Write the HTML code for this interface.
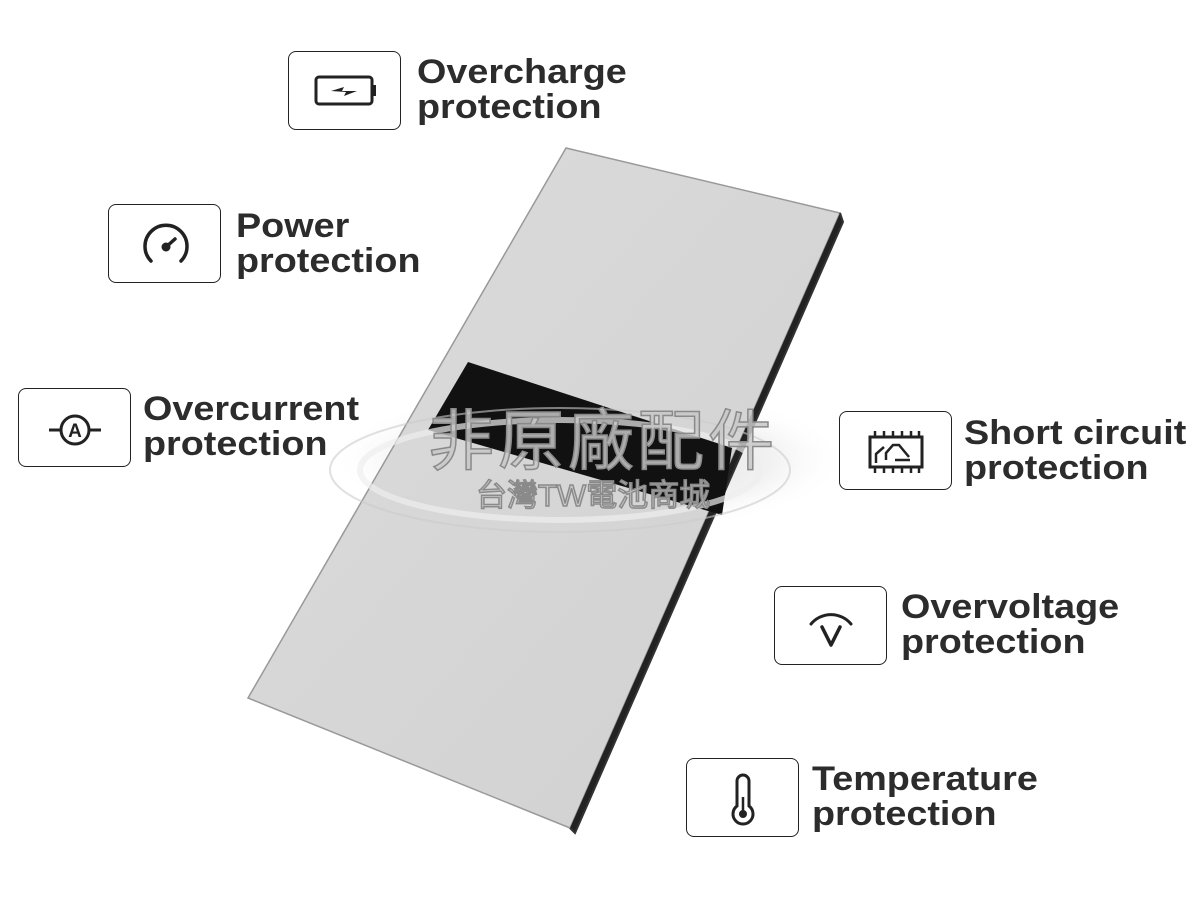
<!DOCTYPE html>
<html><head><meta charset="utf-8"><style>
html,body{margin:0;padding:0;background:#fff;}
body{width:1200px;height:900px;position:relative;overflow:hidden;font-family:"Liberation Sans",sans-serif;}
.box{position:absolute;width:113px;height:79px;border:1.5px solid #222;border-radius:8px;box-sizing:border-box;background:#fff;}
.box svg{position:absolute;left:0;top:0;}
.lbl{position:absolute;font-weight:bold;font-size:34px;line-height:35px;color:#2c2c2c;transform:scaleX(1.11);transform-origin:0 0;white-space:nowrap;margin-top:2px;}
.wm{position:absolute;font-family:"Liberation Sans","Noto Sans CJK TC",sans-serif;color:rgba(200,200,200,0.85);-webkit-text-stroke:1.5px #8a8a8a;white-space:nowrap;}
</style></head><body>
<svg width="1200" height="900" style="position:absolute;left:0;top:0">
<defs>
<radialGradient id="sw" cx="0.5" cy="0.5" r="0.5">
<stop offset="0" stop-color="#bbb" stop-opacity="0.6"/><stop offset="0.7" stop-color="#ddd" stop-opacity="0.4"/><stop offset="1" stop-color="#fff" stop-opacity="0"/></radialGradient>
<linearGradient id="bat" x1="0" y1="0" x2="1" y2="1"><stop offset="0" stop-color="#dcdcdc"/><stop offset="1" stop-color="#d0d0d0"/></linearGradient>
</defs>
<ellipse cx="590" cy="460" rx="260" ry="75" fill="url(#sw)"/>
<polygon points="566,148 840,213 570,828 248,698" fill="url(#bat)" stroke="#999" stroke-width="1.5"/>
<polyline points="840,213 843,222 575,833 570,828" fill="#222" stroke="#333" stroke-width="2"/>
<polygon points="468,362 732,448 722,515 428,430" fill="#111"/>
<ellipse cx="560" cy="470" rx="200" ry="50" fill="none" stroke="#eee" stroke-width="6" opacity="0.7"/>
<ellipse cx="560" cy="470" rx="230" ry="62" fill="none" stroke="#ccc" stroke-width="2" opacity="0.6"/>
</svg>
<div class="wm" style="left:428px;top:388px;font-size:66px;letter-spacing:4px;">非原廠配件</div>
<div class="wm" style="left:476px;top:470px;font-size:31px;">台灣TW電池商城</div>

<div class="box" style="left:288px;top:51px;"><svg width="113" height="79"><rect x="27" y="25" width="56" height="27" rx="3" fill="none" stroke="#222" stroke-width="3"/><rect x="83" y="33" width="4" height="11" fill="#222"/><path d="M42 39 L55 35 L53 39 L68 39 L55 44 L57 40 Z" fill="#222"/></svg></div>
<div class="lbl" style="left:417px;top:53px;">Overcharge<br>protection</div>

<div class="box" style="left:108px;top:204px;"><svg width="113" height="79"><path d="M42 56 A21 21 0 1 1 72 56" fill="none" stroke="#222" stroke-width="3.5" stroke-linecap="round"/><circle cx="57" cy="42" r="4.5" fill="#222"/><line x1="57" y1="42" x2="66" y2="34" stroke="#222" stroke-width="3.5" stroke-linecap="round"/></svg></div>
<div class="lbl" style="left:236px;top:207px;">Power<br>protection</div>

<div class="box" style="left:18px;top:388px;"><svg width="113" height="79"><circle cx="56" cy="41" r="14" fill="none" stroke="#222" stroke-width="3"/><line x1="30" y1="41" x2="42" y2="41" stroke="#222" stroke-width="3"/><line x1="70" y1="41" x2="82" y2="41" stroke="#222" stroke-width="3"/><text x="56" y="48" font-size="19" font-weight="bold" text-anchor="middle" fill="#222" font-family="Liberation Sans">A</text></svg></div>
<div class="lbl" style="left:143px;top:390px;">Overcurrent<br>protection</div>

<div class="box" style="left:839px;top:411px;"><svg width="113" height="79"><rect x="30" y="25" width="52" height="30" fill="none" stroke="#222" stroke-width="3"/><g stroke="#222" stroke-width="2.5"><line x1="35" y1="19" x2="35" y2="25"/><line x1="44" y1="19" x2="44" y2="25"/><line x1="53" y1="19" x2="53" y2="25"/><line x1="62" y1="19" x2="62" y2="25"/><line x1="71" y1="19" x2="71" y2="25"/><line x1="79" y1="19" x2="79" y2="25"/><line x1="35" y1="55" x2="35" y2="61"/><line x1="44" y1="55" x2="44" y2="61"/><line x1="53" y1="55" x2="53" y2="61"/><line x1="62" y1="55" x2="62" y2="61"/><line x1="71" y1="55" x2="71" y2="61"/><line x1="79" y1="55" x2="79" y2="61"/><path d="M36 51 L36 42 L44 35 M46 48 L46 41 L53 33 L59 33 L69 45 M55 48 L70 48" fill="none"/></g></svg></div>
<div class="lbl" style="left:964px;top:414px;">Short circuit<br>protection</div>

<div class="box" style="left:774px;top:586px;"><svg width="113" height="79"><path d="M36 37 A26 26 0 0 1 76 37" fill="none" stroke="#222" stroke-width="3" stroke-linecap="round"/><path d="M47 40 L56 58 L65 40" fill="none" stroke="#222" stroke-width="3.5" stroke-linecap="round" stroke-linejoin="round"/></svg></div>
<div class="lbl" style="left:901px;top:588px;">Overvoltage<br>protection</div>

<div class="box" style="left:686px;top:758px;"><svg width="113" height="79"><path d="M50 22 A6 6 0 0 1 62 22 L62 47 A10 10 0 1 1 50 47 Z" fill="none" stroke="#222" stroke-width="3"/><circle cx="56" cy="55" r="4" fill="#222"/><line x1="56" y1="38" x2="56" y2="53" stroke="#222" stroke-width="2.5"/></svg></div>
<div class="lbl" style="left:812px;top:760px;">Temperature<br>protection</div>
</body></html>
